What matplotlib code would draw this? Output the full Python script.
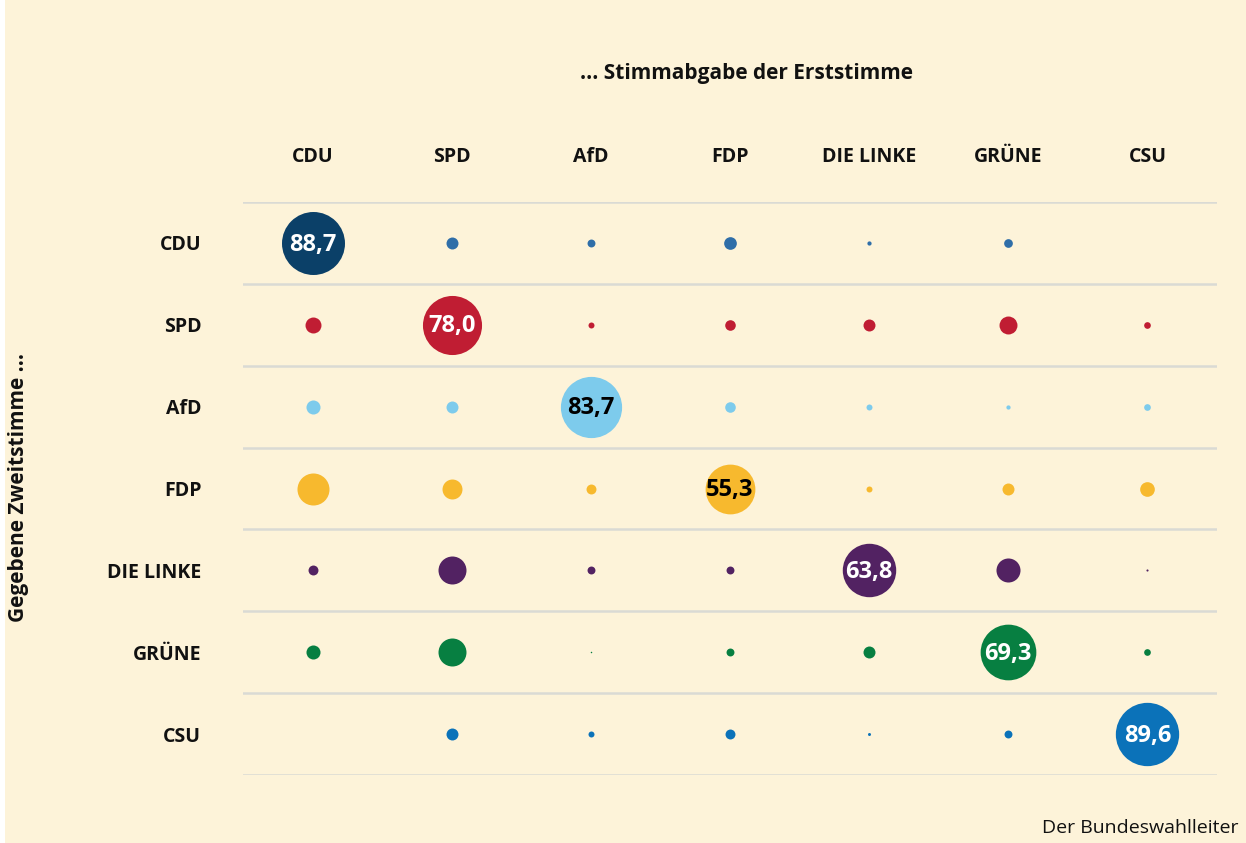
import matplotlib.pyplot as plt
import numpy as np

plt.rcParams['font.family'] = ['Open Sans', 'DejaVu Sans']

# Erststimme (Spalten) und Zweitstimme (Zeilen)
parteien = ['CDU', 'SPD', 'AfD', 'FDP', 'DIE LINKE', 'GRÜNE', 'CSU']

# Anteile in % (Zeile = Zweitstimme, Spalte = Erststimme), None = kein Wert
werte = [
    [88.7, 3.2, 1.4, 3.6, 0.4, 1.7, None],   # CDU
    [5.7, 78.0, 0.8, 2.5, 3.2, 7.2, 1.0],    # SPD
    [4.4, 3.2, 83.7, 2.5, 0.8, 0.4, 1.0],    # AfD
    [22.9, 8.9, 2.2, 55.3, 0.8, 3.2, 4.8],   # FDP
    [2.2, 17.5, 1.4, 1.4, 63.8, 12.9, 0.1],  # DIE LINKE
    [4.4, 17.5, 0.05, 1.4, 3.2, 69.3, 1.0],  # GRÜNE
    [None, 3.2, 0.8, 2.2, 0.2, 1.4, 89.6],   # CSU
]

farben_gross = ['#0b4068', '#c01d33', '#7dcbec', '#f7b92e', '#522262', '#077f41', '#0b72b9']
farben_klein = ['#2f6ea8', '#c01d33', '#7dcbec', '#f7b92e', '#522262', '#077f41', '#0b72b9']
text_farben = ['white', 'white', 'black', 'black', 'white', 'white', 'white']

hintergrund = '#fdf3d9'

fig = plt.figure(figsize=(12.46, 8.43), dpi=100, facecolor='white')
# cremefarbene Fläche (links schmaler weißer Rand)
fig.patches.append(plt.Rectangle((5 / 1246, 0), 1, 1, transform=fig.transFigure,
                                 facecolor=hintergrund, edgecolor='none', zorder=-10))

ax = fig.add_axes([243 / 1246, 1 - 775 / 843, 974 / 1246, 573 / 843])
ax.set_facecolor('none')
ax.set_xlim(-0.5, 6.5)
ax.set_ylim(6.5, -0.5)

# Trennlinien
for y in np.arange(-0.5, 7, 1):
    ax.axhline(y, color='#dadad4', lw=1.8, zorder=1)

k = 23.2  # Fläche in pt^2 pro Prozentpunkt
for i, zeile in enumerate(werte):
    for j, v in enumerate(zeile):
        if v is None:
            continue
        if i == j:
            ax.scatter(j, i, s=k * v, color=farben_gross[i], linewidths=0, zorder=3)
            ax.text(j, i + 0.02, f'{v:.1f}'.replace('.', ','), ha='center', va='center',
                    fontsize=17, fontweight='bold', color=text_farben[i], zorder=4)
        else:
            ax.scatter(j, i, s=k * v, color=farben_klein[i], linewidths=0, zorder=3)

ax.set_xticks(range(7))
ax.set_xticklabels(parteien, fontsize=14, fontweight='bold')
ax.xaxis.tick_top()
ax.set_yticks(range(7))
ax.set_yticklabels(parteien, fontsize=14, fontweight='bold')
ax.tick_params(axis='x', length=0, pad=25, colors='#111111')
ax.tick_params(axis='y', length=0, pad=30, colors='#111111')
for s in ax.spines.values():
    s.set_visible(False)

fig.text(746 / 1246, 1 - 74 / 843, '... Stimmabgabe der Erststimme', ha='center', va='center',
         fontsize=15, fontweight='bold', color='#111111')
fig.text(19 / 1246, 1 - 487 / 843, 'Gegebene Zweitstimme ...', ha='center', va='center',
         rotation=90, fontsize=15, fontweight='bold', color='#111111')
fig.text(1238 / 1246, 1 - 828 / 843, 'Der Bundeswahlleiter', ha='right', va='center',
         fontsize=14, color='#111111')

fig.savefig('out.png', dpi=100, facecolor=fig.get_facecolor())
